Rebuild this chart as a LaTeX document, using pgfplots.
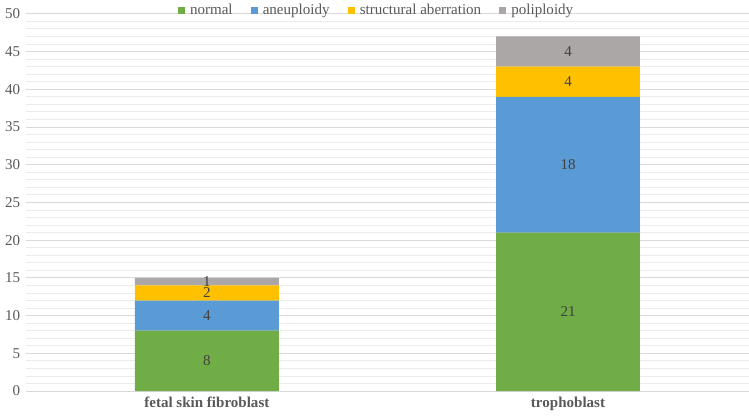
\documentclass[border=0pt]{standalone}
\usepackage{pgfplots}
\usepackage{pgfplotstable}
\pgfplotsset{compat=1.18}
\usepackage{fontspec}
\setmainfont{Liberation Serif}

\definecolor{cnormal}{HTML}{70AD47}
\definecolor{caneu}{HTML}{5B9BD5}
\definecolor{cstruct}{HTML}{FFC000}
\definecolor{cpoli}{HTML}{ABA7A7}
\definecolor{ctext}{HTML}{595959}
\definecolor{clabel}{HTML}{404040}
\definecolor{cgrid}{HTML}{D9D9D9}
\definecolor{cminor}{HTML}{EBEBEB}

\pgfplotstableread{
x normal aneu struct poli
0 8  4  2 1
1 21 18 4 4
}\karyo

\begin{document}
\fontsize{15}{17}\selectfont
\begin{tikzpicture}
\begin{axis}[
	scale only axis,
	width=718bp,
	height=375bp,
	ybar stacked,
	bar width=143bp,
	ymin=0, ymax=50,
	xmin=-0.5, xmax=1.5,
	ytick={0,5,...,50},
	minor ytick={0,1,...,50},
	xtick={0,1},
	xticklabels={fetal skin fibroblast, trophoblast},
	x tick label style={font=\bfseries, text=ctext, yshift=-1bp},
	y tick label style={text=ctext, xshift=-1bp},
	/pgf/number format/assume math mode=true,
	axis lines*=left,
	x axis line style={cgrid, line width=0.8bp},
	y axis line style={draw=none},
	ymajorgrids, yminorgrids,
	major grid style={cgrid, line width=0.8bp},
	minor grid style={cminor, line width=0.8bp},
	major tick length=0pt, minor tick length=0pt,
	clip=false,
	legend style={at={(0.485,0.987)}, anchor=south, draw=none, fill=none,
		legend columns=-1, text=ctext, inner sep=0pt, outer sep=0pt,
		/tikz/every even column/.append style={column sep=16bp}},
	legend image code/.code={\path[#1,draw=none] (0bp,-3.5bp) rectangle (7bp,3.5bp);
		\path (10bp,0bp);},
	nodes near coords,
	every node near coord/.append style={anchor=center, text=clabel},
]
\addplot[draw=none, fill=cnormal] table[x=x, y=normal] {\karyo};
\addplot[draw=none, fill=caneu] table[x=x, y=aneu] {\karyo};
\addplot[draw=none, fill=cstruct] table[x=x, y=struct] {\karyo};
\addplot[draw=none, fill=cpoli] table[x=x, y=poli] {\karyo};
\legend{normal, aneuploidy, structural aberration, poliploidy}
\end{axis}
% a little white room above the legend and below the category names
\path (current bounding box.north) ++(0,2bp) coordinate (padtop);
\path (current bounding box.south) ++(0,-4bp) coordinate (padbot);
\path (padtop) (padbot);
\end{tikzpicture}
\end{document}
